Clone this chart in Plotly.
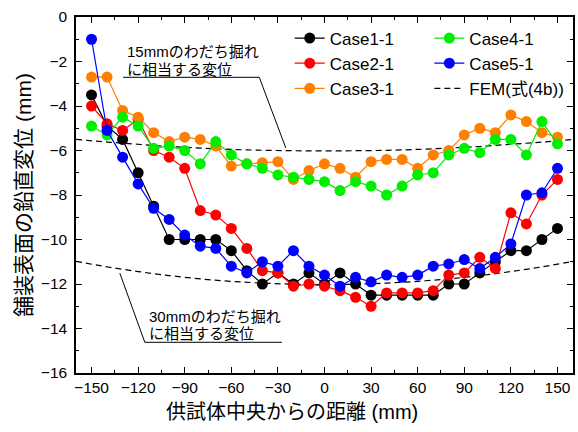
import plotly.graph_objects as go

distance = [-150, -140, -130, -120, -110, -100, -90, -80, -70, -60, -50, -40, -30, -20, -10,
            0, 10, 20, 30, 40, 50, 60, 70, 80, 90, 100, 110, 120, 130, 140, 150]

case1 = [-3.5, -4.9, -5.5, -7.0, -8.5, -10.0, -10.0, -10.0, -10.0, -10.5, -11.4, -12.0, -11.5, -12.0, -11.5,
         -12.0, -11.5, -12.0, -12.5, -12.5, -12.5, -12.5, -12.5, -12.0, -12.0, -11.5, -11.0, -10.5, -10.5, -10.0, -9.5]
case2 = [-4.0, -4.8, -5.1, -4.6, -6.0, -6.3, -6.8, -8.7, -8.9, -9.5, -10.4, -11.4, -11.5, -12.1, -12.0,
         -12.1, -12.3, -12.6, -13.0, -12.4, -12.4, -12.4, -12.3, -11.6, -11.5, -10.8, -11.3, -8.8, -9.3, -8.0, -7.3]
case3 = [-2.7, -2.7, -4.2, -4.5, -5.2, -5.6, -5.4, -5.5, -5.8, -6.7, -6.6, -6.55, -6.5, -7.3, -6.9,
         -6.6, -6.8, -7.2, -6.5, -6.4, -6.4, -6.8, -6.2, -6.0, -5.3, -5.0, -5.2, -4.4, -4.7, -5.2, -5.4]
case4 = [-4.9, -5.3, -4.5, -4.9, -5.9, -5.8, -6.0, -6.6, -5.6, -6.2, -6.6, -6.8, -7.1, -7.2, -7.3,
         -7.4, -7.8, -7.4, -7.6, -8.0, -7.6, -7.1, -7.0, -6.2, -5.9, -6.1, -5.5, -5.5, -6.2, -4.7, -5.7]
case5 = [-1.0, -5.1, -6.3, -7.5, -8.6, -9.1, -9.8, -10.3, -10.4, -11.2, -11.5, -11.0, -11.2, -10.5, -11.2,
         -11.6, -12.1, -11.7, -11.9, -11.6, -11.7, -11.6, -11.2, -11.1, -10.9, -11.3, -10.8, -10.2, -8.0, -7.9, -6.8]

fem_x = [-160, -140, -120, -100, -80, -60, -40, -20, 0, 20, 40, 60, 80, 100, 120, 140, 160]
fem15 = [-5.50, -5.62, -5.72, -5.82, -5.89, -5.95, -5.99, -6.01, -6.02, -6.01, -5.99, -5.95, -5.89, -5.82, -5.72, -5.62, -5.50]
fem30 = [-10.98, -11.23, -11.44, -11.62, -11.77, -11.88, -11.96, -12.01, -12.03, -12.01, -11.96, -11.88, -11.77, -11.62, -11.44, -11.23, -10.98]

series = [
    ("Case1-1", case1, "#000000", "legend"),
    ("Case2-1", case2, "#ff0000", "legend"),
    ("Case3-1", case3, "#ff8000", "legend"),
    ("Case4-1", case4, "#00ee00", "legend2"),
    ("Case5-1", case5, "#0000ff", "legend2"),
]

FONT = "Liberation Sans, Arial, Noto Sans CJK JP"

fig = go.Figure()
fig.add_trace(go.Scatter(x=fem_x, y=fem15, mode="lines", line=dict(color="black", width=1.2, dash="6px,4px", shape="spline"),
                         name="FEM(式(4b))", legend="legend2", legendrank=3))
fig.add_trace(go.Scatter(x=fem_x, y=fem30, mode="lines", line=dict(color="black", width=1.2, dash="6px,4px", shape="spline"),
                         showlegend=False))
for i, (name, ys, col, lg) in enumerate(series):
    fig.add_trace(go.Scatter(x=distance, y=ys, mode="lines+markers", name=name,
                             line=dict(color=col, width=1.2),
                             marker=dict(color=col, size=11, line=dict(width=0)),
                             legend=lg, legendrank=i if lg == "legend" else i - 3))

# annotations (one per text line)
ann_font = dict(family=FONT, size=15, color="black")
notes = [
    (-128.5, -1.56, "15mmのわだち掘れ"),
    (-128.5, -2.37, "に相当する変位"),
    (-114.5, -13.45, "30mmのわだち掘れ"),
    (-114.5, -14.23, "に相当する変位"),
]
for nx, ny, t in notes:
    fig.add_annotation(x=nx, y=ny, xref="x", yref="y", text=t, showarrow=False,
                       xanchor="left", yanchor="middle", align="left", font=ann_font)
lineprops = dict(color="black", width=1)
fig.add_shape(type="line", x0=-129.7, y0=-2.71, x1=-42, y1=-2.71, xref="x", yref="y", line=lineprops)
fig.add_shape(type="line", x0=-42, y0=-2.71, x1=-24.9, y1=-5.89, xref="x", yref="y", line=lineprops)
fig.add_shape(type="line", x0=-115.7, y0=-14.62, x1=-27.4, y1=-14.62, xref="x", yref="y", line=lineprops)
fig.add_shape(type="line", x0=-115.7, y0=-14.62, x1=-131.8, y1=-11.51, xref="x", yref="y", line=lineprops)

# x-axis title (centered on the figure like the reference)
fig.add_annotation(x=0.435, y=-0.073, xref="paper", yref="paper", text="供試体中央からの距離 (mm)",
                   showarrow=False, xanchor="center", yanchor="top",
                   font=dict(family=FONT, size=20, color="black"))

axis_common = dict(showline=True, linecolor="black", linewidth=1.5, mirror="allticks",
                   ticks="inside", ticklen=6, tickwidth=1.2, tickcolor="black",
                   showgrid=False, zeroline=False,
                   tickfont=dict(family=FONT, size=15.5, color="black"))

fig.update_xaxes(range=[-160, 160], tick0=-150, dtick=30,
                 minor=dict(ticks="inside", ticklen=3, tick0=-150, dtick=15, tickcolor="black", tickwidth=1.2),
                 **axis_common)
fig.update_yaxes(range=[-16, 0], tick0=0, dtick=2,
                 minor=dict(ticks="inside", ticklen=3, tick0=0, dtick=1, tickcolor="black", tickwidth=1.2),
                 title=dict(text="舗装表面の鉛直変位 (mm)", font=dict(family=FONT, size=21, color="black"), standoff=4),
                 ticklabelstandoff=4,
                 **axis_common)

legend_common = dict(bgcolor="rgba(0,0,0,0)", font=dict(family=FONT, size=17, color="black"),
                     yanchor="top", xanchor="left", tracegroupgap=0)
fig.update_layout(
    width=578, height=432,
    margin=dict(l=76, r=3, t=17, b=59),
    paper_bgcolor="white", plot_bgcolor="white",
    legend=dict(x=0.43, y=0.99, **legend_common),
    legend2=dict(x=0.711, y=0.99, **legend_common),
    showlegend=True,
)

fig.write_html("out.html")
